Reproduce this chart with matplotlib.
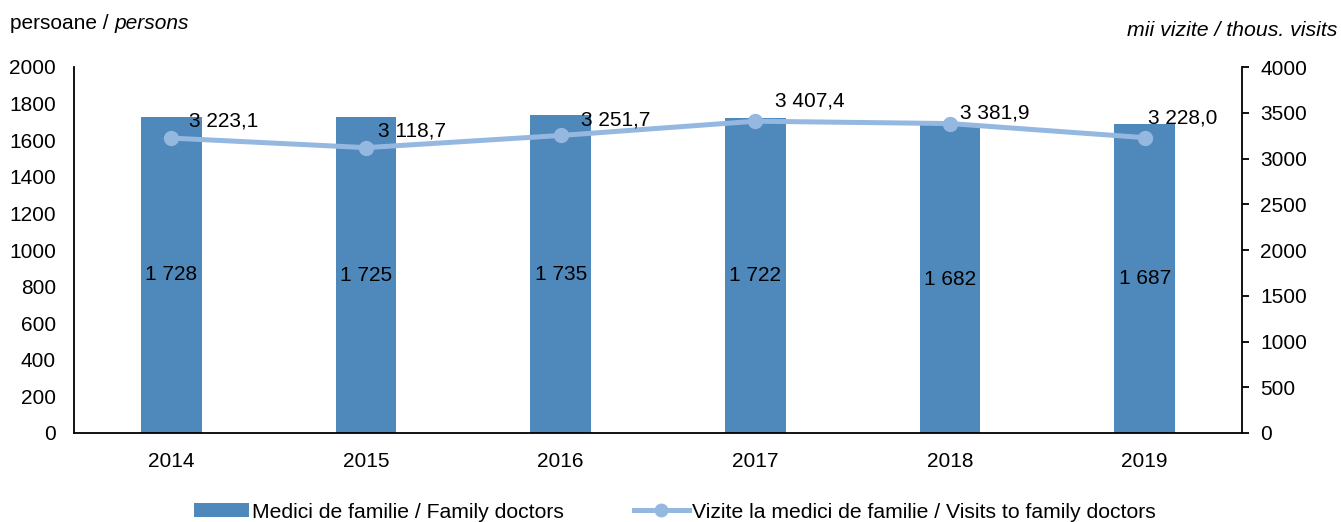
import matplotlib
matplotlib.use("Agg")
import matplotlib.pyplot as plt
from matplotlib.lines import Line2D
from matplotlib.patches import Patch

years = ["2014", "2015", "2016", "2017", "2018", "2019"]
doctors = [1728, 1725, 1735, 1722, 1682, 1687]
visits = [3223.1, 3118.7, 3251.7, 3407.4, 3381.9, 3228.0]
doctor_labels = ["1 728", "1 725", "1 735", "1 722", "1 682", "1 687"]
visit_labels = ["3 223,1", "3 118,7", "3 251,7", "3 407,4", "3 381,9", "3 228,0"]
# label offsets from the marker, in pixels (right, up)
visit_label_offsets = [(18, 17), (12, 17), (20, 15), (20, 20), (10, 11), (3, 20)]

plt.rcParams['font.family'] = ['Liberation Sans', 'DejaVu Sans']
FS = 15
bar_color = "#4F88BB"
line_color = "#95B8E0"

fig = plt.figure(figsize=(13.41, 5.22), dpi=100)
W, H = 1341, 522
px = 72 / 100
ax = fig.add_axes([74 / W, 1 - 433 / H, (1242 - 74) / W, (433 - 67) / H])
x = list(range(len(years)))
ax.bar(x, doctors, width=0.31, color=bar_color, zorder=2)
ax.set_xlim(-0.5, len(years) - 0.5)
ax.set_ylim(0, 2000)
ax.set_yticks(range(0, 2001, 200))
ax.set_xticks(x)
ax.set_xticklabels(years)
ax.tick_params(axis='y', length=0, labelsize=FS, pad=13)
ax.tick_params(axis='x', length=0, labelsize=FS, pad=14)
for s in ['top', 'right']:
    ax.spines[s].set_visible(False)
for s in ['left', 'bottom']:
    ax.spines[s].set_linewidth(1.3)
for xi, v, lab in zip(x, doctors, doctor_labels):
    ax.text(xi, v / 2, lab, ha='center', va='center', fontsize=FS, zorder=5)

ax2 = ax.twinx()
ax2.plot(x, visits, color=line_color, lw=3.6, marker='o', markersize=10, zorder=3)
ax2.set_ylim(0, 4000)
ax2.set_yticks(range(0, 4001, 500))
ax2.tick_params(axis='y', length=5, width=1.3, direction='out', labelsize=FS, pad=8)
for s in ['top', 'left', 'bottom']:
    ax2.spines[s].set_visible(False)
ax2.spines['right'].set_linewidth(1.3)
for xi, v, lab, (dx, dy) in zip(x, visits, visit_labels, visit_label_offsets):
    ax2.annotate(lab, (xi, v), xytext=(dx * px, dy * px), textcoords='offset points',
                 ha='left', va='center', fontsize=FS, zorder=6)

t1 = fig.text(10 / W, 1 - 24 / H, "persoane / ", fontsize=FS, va='center', ha='left')
fig.canvas.draw()
bb = t1.get_window_extent()
fig.text(bb.x1 / W, 1 - 24 / H, "persons", fontsize=FS, va='center', ha='left', style='italic')
fig.text(1337 / W, 1 - 30 / H, "mii vizite / thous. visits", fontsize=FS + 0.3,
         va='center', ha='right', style='italic')

handles = [Patch(facecolor=bar_color, edgecolor='none'),
           Line2D([], [], color=line_color, lw=3.6, marker='o', markersize=9)]
labels = ["Medici de familie / Family doctors",
          "Vizite la medici de familie / Visits to family doctors"]
fig.legend(handles, labels, loc='center', bbox_to_anchor=(675 / W, 1 - 512 / H), ncol=2,
           frameon=False, fontsize=FS + 0.2, handlelength=2.6, handleheight=0.6,
           columnspacing=3.3, handletextpad=0.15)

fig.savefig("out.png", dpi=100)
